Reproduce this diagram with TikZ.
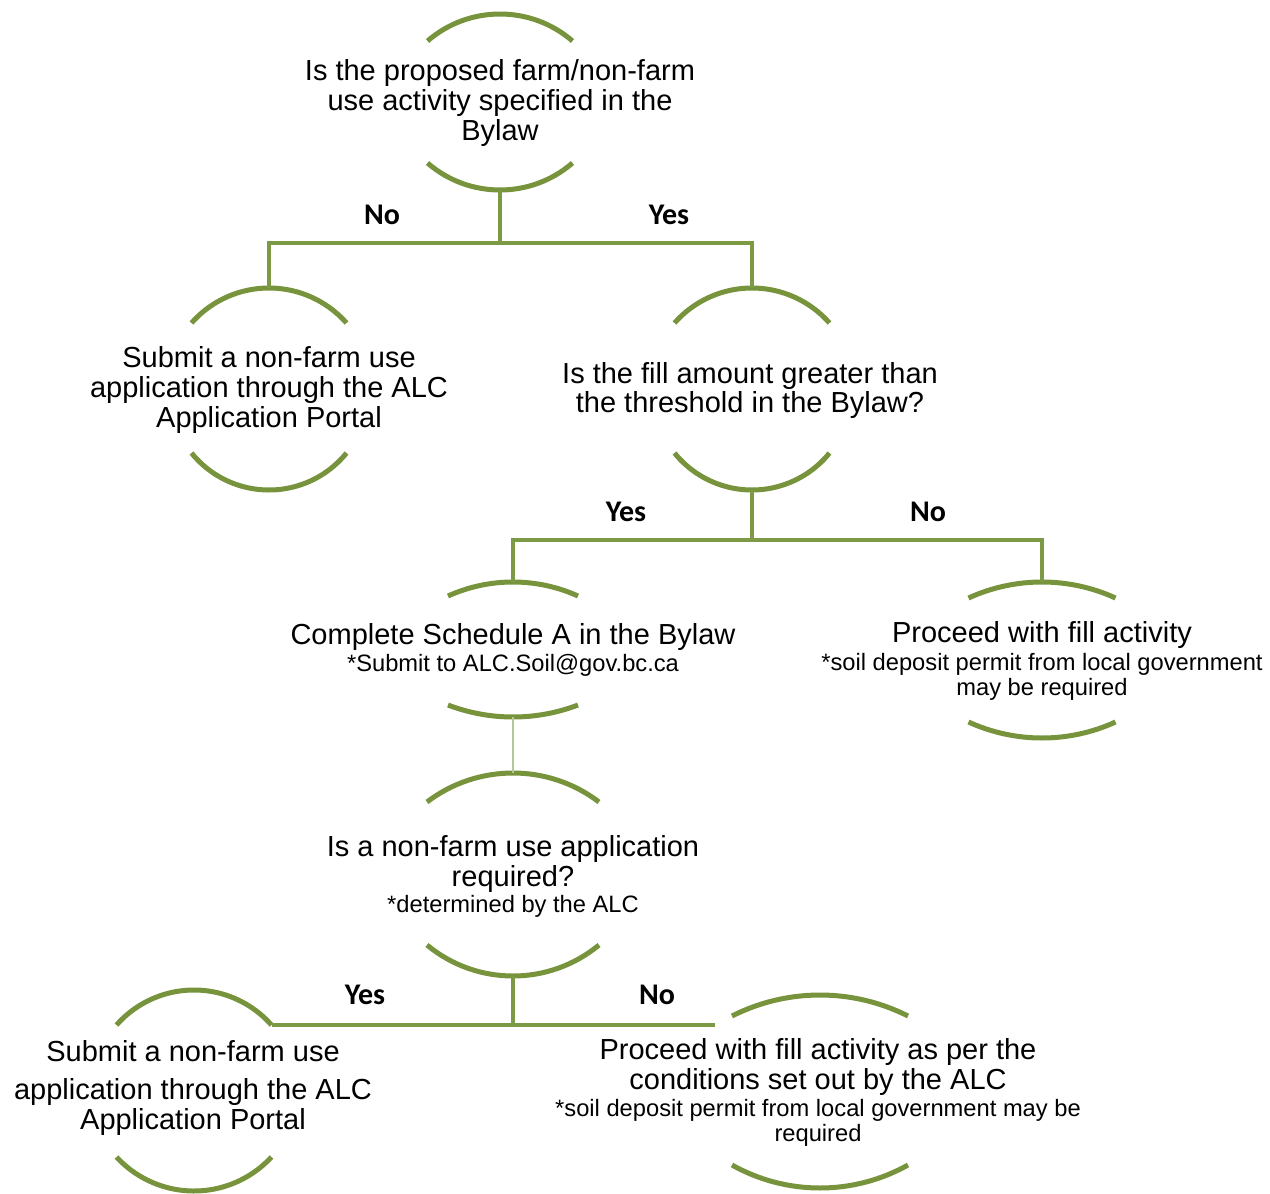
\documentclass[tikz,border=0pt]{standalone}
\usepackage{fontspec}
\setmainfont{Liberation Sans}
\newfontfamily\carfont{Carlito}
\definecolor{arcgreen}{RGB}{119,147,60}
\definecolor{conngreen}{RGB}{124,153,68}
\definecolor{thingreen}{RGB}{180,200,150}
\newcommand\mainsz{\fontsize{29}{30}\selectfont}
\newcommand\smallsz{\fontsize{23.7}{25}\selectfont}
% top arc: apex x, apex y, half width, sag
\newcommand\toparc[4]{%
  \pgfmathsetmacro\rr{((#3)*(#3)+(#4)*(#4))/(2*(#4))}%
  \pgfmathsetmacro\aa{asin((#3)/\rr)}%
  \draw[arcln] (#1-#3,#2+#4) arc[start angle={270-\aa}, end angle={270+\aa}, radius=\rr];}
\newcommand\botarc[4]{%
  \pgfmathsetmacro\rr{((#3)*(#3)+(#4)*(#4))/(2*(#4))}%
  \pgfmathsetmacro\aa{asin((#3)/\rr)}%
  \draw[arcln] (#1-#3,#2-#4) arc[start angle={90+\aa}, end angle={90-\aa}, radius=\rr];}
\begin{document}
\begin{tikzpicture}[x=1pt,y=-1pt,
  arcln/.style={draw=arcgreen,line width=5pt},
  conn/.style={draw=conngreen,line width=4.5pt},
  thin/.style={draw=thingreen,line width=1.2pt},
  txt/.style={font=\mainsz,inner sep=0pt,anchor=base},
  sml/.style={font=\smallsz,inner sep=0pt,anchor=base},
  lbl/.style={font=\carfont\bfseries\fontsize{30}{32}\selectfont,inner sep=0pt,anchor=base}]
\useasboundingbox[fill=white] (0,0) rectangle (1270,1194);

% ---- arcs ----
\toparc{500}{14}{72.5}{27}   \botarc{500}{190}{72.5}{27}
\toparc{269}{288}{77.5}{35}  \botarc{269}{490}{77.5}{37}
\toparc{752}{288}{77.5}{35}  \botarc{752}{490}{77.5}{37}
\toparc{513}{582}{65}{14}    \botarc{513}{717}{65}{12}
\toparc{1042}{582}{73.5}{16} \botarc{1042}{738}{73.5}{16}
\toparc{513}{773}{86}{29}    \botarc{513}{976}{86}{31}
\toparc{194}{990}{77.5}{35}  \botarc{194}{1191}{77.5}{34}
\toparc{820}{995}{88}{21}    \botarc{820}{1188}{88}{23}

% ---- anchor coordinates ----
\coordinate (Ab) at (500,190);
\coordinate (Bt) at (269,288);
\coordinate (Ct) at (752,288);
\coordinate (Cb) at (752,490);
\coordinate (Dt) at (513,582);
\coordinate (Db) at (513,717);
\coordinate (Et) at (1042,582);
\coordinate (Ft) at (513,773);
\coordinate (Fb) at (513,976);
\coordinate (Gr) at (272,1025);
\coordinate (Hend) at (715,1025);
\coordinate (J1) at (500,243);
\coordinate (J2) at (752,540);
\coordinate (J3) at (513,1025);

% ---- connectors ----
\draw[conn] (Ab) -- (J1);
\draw[conn] (Bt) -- (Bt |- J1) -- (Ct |- J1) -- (Ct);
\draw[conn] (Cb) -- (J2);
\draw[conn] (Dt) -- (Dt |- J2) -- (Et |- J2) -- (Et);
\draw[thin] (Db) -- (Ft);
\draw[conn] (Fb) -- (J3);
\draw[conn] (Gr) -- (Hend);

% ---- labels ----
\node[lbl] (l1) at (382,224) {No};
\node[lbl] (l2) at (669,224) {Yes};
\node[lbl] (l3) at (626,521) {Yes};
\node[lbl] (l4) at (928,521) {No};
\node[lbl] (l5) at (365,1004) {Yes};
\node[lbl] (l6) at (657,1004) {No};

% ---- texts ----
\node[txt] (a1) at (500,80) {Is the proposed farm/non-farm};
\node[txt] (a2) at (500,110) {use activity specified in the};
\node[txt] (a3) at (500,140) {Bylaw};

\node[txt] (b1) at (269,367) {Submit a non-farm use};
\node[txt] (b2) at (269,397) {application through the ALC};
\node[txt] (b3) at (269,427) {Application Portal};

\node[txt] (c1) at (750,383) {Is the fill amount greater than};
\node[txt] (c2) at (750,412) {the threshold in the Bylaw?};

\node[txt] (d1) at (513,644) {Complete Schedule A in the Bylaw};
\node[sml] (d2) at (513,671.5) {*Submit to ALC.Soil@gov.bc.ca};

\node[txt] (e1) at (1042,642) {Proceed with fill activity};
\node[sml] (e2) at (1042,670.5) {*soil deposit permit from local government};
\node[sml] (e3) at (1042,695.5) {may be required};

\node[txt] (f1) at (513,856) {Is a non-farm use application};
\node[txt] (f2) at (513,886) {required?};
\node[sml] (f3) at (513,912.5) {*determined by the ALC};

\node[txt] (g1) at (193,1061) {Submit a non-farm use};
\node[txt] (g2) at (193,1099) {application through the ALC};
\node[txt] (g3) at (193,1129) {Application Portal};

\node[txt] (h1) at (818,1059) {Proceed with fill activity as per the};
\node[txt] (h2) at (818,1089) {conditions set out by the ALC};
\node[sml] (h3) at (818,1116.5) {*soil deposit permit from local government may be};
\node[sml] (h4) at (818,1141.5) {required};
\end{tikzpicture}
\end{document}
